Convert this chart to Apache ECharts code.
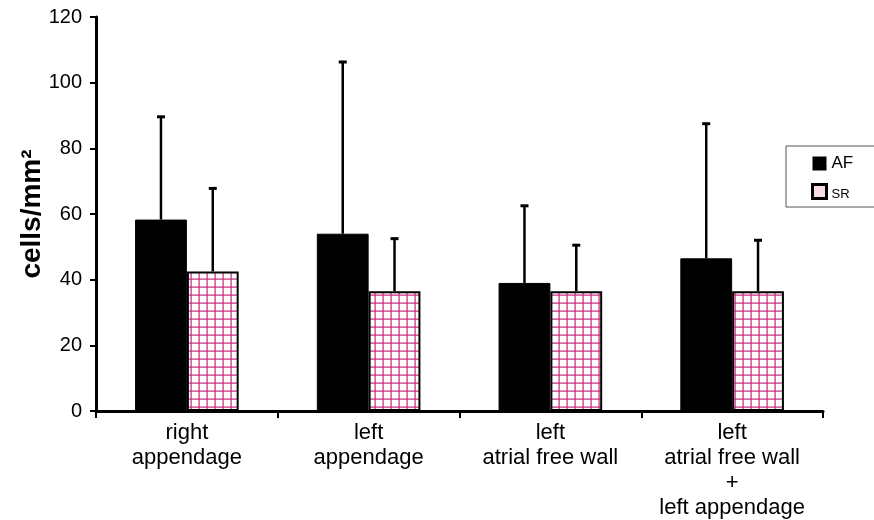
<!DOCTYPE html>
<html><head><meta charset="utf-8">
<script src="https://cdn.jsdelivr.net/npm/echarts@6/dist/echarts.min.js"></script>
<style>html,body{margin:0;padding:0;background:#fff}#c{width:874px;height:520px}</style>
</head><body><div id="c"></div>
<script>
const categories = ['right\nappendage', 'left\nappendage', 'left\natrial free wall', 'left\natrial free wall\n+\nleft appendage'];
const afMean = [58.3, 54, 39, 46.5];
const afUpper = [89.6, 106.3, 62.5, 87.5];
const srMean = [42.5, 36.5, 36.5, 36.5];
const srUpper = [67.8, 52.5, 50.5, 52];
const yTicks = [0, 20, 40, 60, 80, 100, 120];

const pc = document.createElement('canvas');
pc.width = 8; pc.height = 8;
const g = pc.getContext('2d');
g.fillStyle = '#ffffff'; g.fillRect(0,0,8,8);
g.fillStyle = '#c8287a';
g.fillRect(6.5,0,1.2,8); g.fillRect(0,6.5,8,1.2);

const chart = echarts.init(document.getElementById('c'));
const FONT = 'Liberation Sans';
const BW = 0.285;

function errSeries(name, means, uppers, sign) {
  return {
    type: 'custom', name: name + 'err', silent: true, z: 5,
    data: means.map((m, i) => [i, m, uppers[i]]),
    renderItem: function (params, api) {
      const band = api.size([1, 0])[0];
      const p0 = api.coord([api.value(0), api.value(1)]);
      const p1 = api.coord([api.value(0), api.value(2)]);
      const x = p0[0] + sign * band * BW / 2;
      return {
        type: 'group', children: [
          { type: 'line', shape: { x1: x, y1: p0[1], x2: x, y2: p1[1] }, style: { stroke: '#000', lineWidth: 2.5 } },
          { type: 'line', shape: { x1: x - 4, y1: p1[1], x2: x + 4, y2: p1[1] }, style: { stroke: '#000', lineWidth: 3 } }
        ]
      };
    }
  };
}

chart.setOption({
  animation: false,
  grid: { left: 96, right: 51, top: 17, bottom: 105 },
  legend: {
    orient: 'vertical', left: 786, top: 146,
    padding: [9, 22, 6, 25],
    borderColor: '#555', borderWidth: 1,
    itemWidth: 14, itemHeight: 14, itemGap: 11,
    textStyle: { fontFamily: FONT, color: '#000', rich: {
      a: { fontFamily: FONT, fontSize: 17, color: '#000' },
      s: { fontFamily: FONT, fontSize: 13, color: '#000', padding: [6, 0, 0, 0] } } },
    formatter: function (n) { return n === 'SR' ? '{s|SR}' : '{a|AF}'; },
    data: [
      { name: 'AF', icon: 'rect', itemStyle: { color: '#000', borderColor: '#000', borderWidth: 0 } },
      { name: 'SR', icon: 'rect', itemStyle: { color: '#f6dce8', borderColor: '#000', borderWidth: 3 } }
    ]
  },
  xAxis: {
    type: 'category', data: categories,
    axisLine: { lineStyle: { color: '#000', width: 3 } },
    axisTick: { show: true, length: 7, lineStyle: { color: '#000', width: 2 } },
    axisLabel: { fontFamily: FONT, fontSize: 22, color: '#000', margin: 9, lineHeight: 25, interval: 0 }
  },
  yAxis: {
    type: 'value', min: 0, max: 120, interval: 20,
    name: 'cells/mm²', nameLocation: 'middle', nameGap: 50, nameMoveOverlap: false,
    nameTextStyle: { fontFamily: FONT, fontSize: 28, fontWeight: 'bold', color: '#000' },
    axisLine: { show: true, lineStyle: { color: '#000', width: 3 } },
    axisTick: { show: true, length: 6, lineStyle: { color: '#000', width: 2 } },
    splitLine: { show: false },
    axisLabel: { fontFamily: FONT, fontSize: 20, color: '#000', margin: 14,
      formatter: function (v) { return yTicks.indexOf(v) >= 0 ? String(v) : ''; } }
  },
  series: [
    { name: 'AF', type: 'bar', data: afMean, barWidth: (BW * 100) + '%', barGap: '0%',
      itemStyle: { color: '#000', borderColor: '#000', borderWidth: 1 } },
    { name: 'SR', type: 'bar', data: srMean, barWidth: (BW * 100) + '%', barGap: '0%',
      itemStyle: { color: { image: pc, repeat: 'repeat' }, borderColor: '#000', borderWidth: 2 } },
    errSeries('AF', afMean, afUpper, -1),
    errSeries('SR', srMean, srUpper, 1)
  ]
});
</script></body></html>
